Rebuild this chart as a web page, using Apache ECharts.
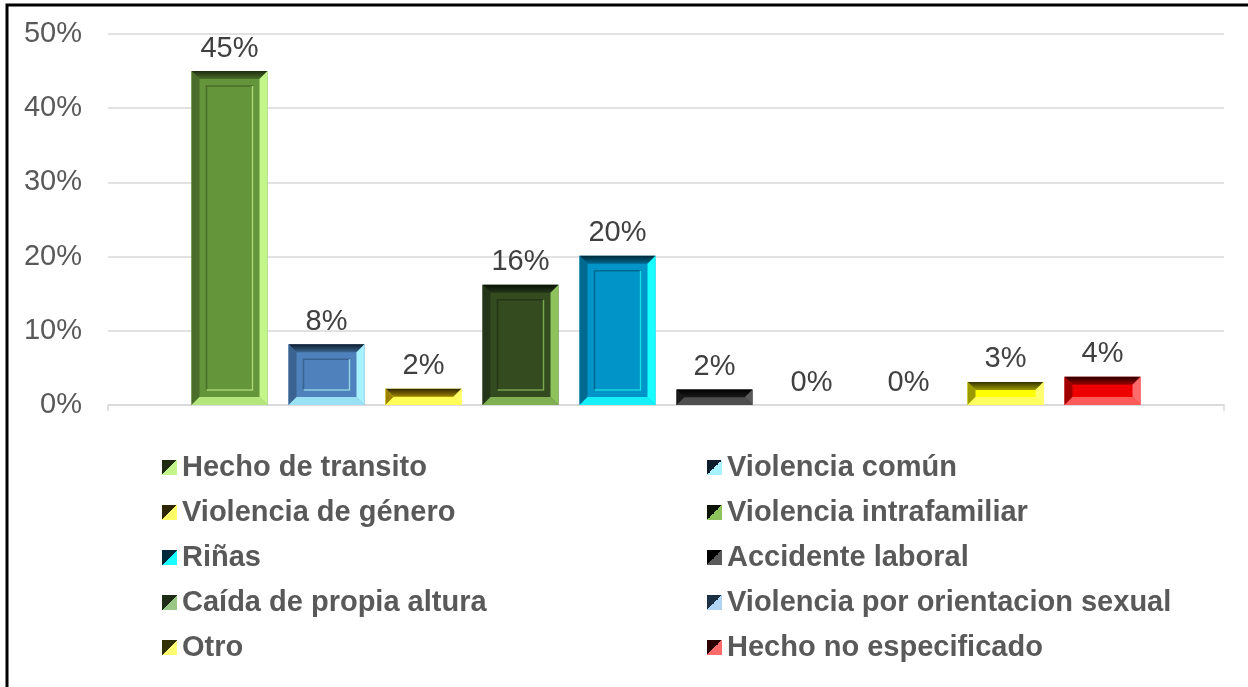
<!DOCTYPE html>
<html lang="es">
<head>
  <meta charset="UTF-8">
  <title>Tipo de hecho</title>
  <style>
    html, body { margin: 0; padding: 0; background: #fff; }
    #main { width: 1248px; height: 687px; }
  </style>
</head>
<body>
  <div id="main"></div>
  <script src="https://cdn.jsdelivr.net/npm/echarts@6/dist/echarts.min.js"></script>
  <script>
    // datos (porcentajes)
    const names = [
      'Hecho de transito', 'Violencia común', 'Violencia de género', 'Violencia intrafamiliar',
      'Riñas', 'Accidente laboral', 'Caída de propia altura', 'Violencia por orientacion sexual',
      'Otro', 'Hecho no especificado'
    ];
    const values = [45.0, 8.2, 2.2, 16.2, 20.1, 2.1, 0, 0, 3.1, 3.8];
    const yTicks = [0, 10, 20, 30, 40, 50];

    // colores: principal, claro (derecha/abajo), oscuro (arriba), lateral izq.
    const palette = [
      { main: '#65953a', light: '#c3f58b', dark: '#1f2c12', side: '#4a6e29' },
      { main: '#4f81bd', light: '#a8f2ff', dark: '#0f1c2c', side: '#3a6390' },
      { main: '#ffff00', light: '#ffff66', dark: '#2e2600', side: '#9c8000' },
      { main: '#344b1f', light: '#8ec25c', dark: '#0b1206', side: '#24361a' },
      { main: '#0094c8', light: '#19ffff', dark: '#002a3a', side: '#006a90' },
      { main: '#0d0d0d', light: '#5a5a5a', dark: '#000000', side: '#1a1a1a' },
      { main: '#4f7d3c', light: '#9bc785', dark: '#1c2c15', side: '#3a5c2c' },
      { main: '#6a9ccc', light: '#b0d4f4', dark: '#1c3044', side: '#4e7aa4' },
      { main: '#ffff00', light: '#ffff70', dark: '#323200', side: '#9a9a00' },
      { main: '#ee0000', light: '#ff6a6a', dark: '#2c0000', side: '#a00000' }
    ];

    const font = 'Liberation Sans, Arial, sans-serif';
    const barW = 76;
    const step = 97;

    let myChart = echarts.init(document.getElementById('main'));

    function makeRender(idx) {
      return function (params, api) {
        const val = api.value(1);
        const top = api.coord([0, val]);
        const base = api.coord([0, 0]);
        const cx = top[0] + (idx - (names.length - 1) / 2) * step;
        const x0 = cx - barW / 2, x1 = cx + barW / 2;
        const y0 = top[1], y1 = base[1];
        const c = palette[idx];
        const children = [];
        const h = y1 - y0;
        if (h > 0.5) {
          const b = Math.min(8, h / 2);
          children.push({ type: 'rect', shape: { x: x0, y: y0, width: barW, height: h }, style: { fill: c.main } });
          children.push({ type: 'polygon', shape: { points: [[x0, y0], [x1, y0], [x1 - b, y0 + b], [x0 + b, y0 + b]] },
            style: { fill: new echarts.graphic.LinearGradient(0, 0, 0, 1, [{ offset: 0, color: c.dark }, { offset: 1, color: c.side }]) } });
          children.push({ type: 'polygon', shape: { points: [[x0, y0], [x0 + b, y0 + b], [x0 + b, y1 - b], [x0, y1]] }, style: { fill: c.side } });
          children.push({ type: 'polygon', shape: { points: [[x1, y0], [x1, y1], [x1 - b, y1 - b], [x1 - b, y0 + b]] }, style: { fill: c.light } });
          children.push({ type: 'polygon', shape: { points: [[x0, y1], [x1, y1], [x1 - b, y1 - b], [x0 + b, y1 - b]] }, style: { fill: c.light, opacity: 0.85 } });
          if (h > 40) {
            const ins = 15;
            children.push({ type: 'rect', shape: { x: x0 + ins, y: y0 + ins, width: barW - 2 * ins, height: h - 2 * ins },
              style: { fill: 'none', stroke: c.side, lineWidth: 1.5 } });
            children.push({ type: 'polyline', shape: { points: [[x1 - ins, y0 + ins], [x1 - ins, y1 - ins], [x0 + ins, y1 - ins]] },
              style: { fill: 'none', stroke: c.light, lineWidth: 1.5, opacity: 0.8 } });
          }
        }
        children.push({
          type: 'text',
          style: {
            text: Math.round(val) + '%', x: cx, y: y0 - 8,
            align: 'center', verticalAlign: 'bottom',
            fill: '#404040', font: '29px ' + font
          }
        });
        return { type: 'group', children: children };
      };
    }

    const series = names.map(function (n, i) {
      const c = palette[i];
      return {
        name: n,
        type: 'custom',
        renderItem: makeRender(i),
        encode: { x: 0, y: 1 },
        // el degradado solo se usa en el icono de la leyenda
        itemStyle: {
          color: new echarts.graphic.LinearGradient(0, 0, 1, 1, [
            { offset: 0, color: c.dark }, { offset: 0.5, color: c.dark },
            { offset: 0.5, color: c.light }, { offset: 1, color: c.light }
          ])
        },
        data: [[0, values[i]]]
      };
    });

    const legendBase = {
      orient: 'vertical',
      top: 448,
      icon: 'rect',
      itemWidth: 15,
      itemHeight: 15,
      itemGap: 16,
      textStyle: { fontSize: 29, fontWeight: 'bold', color: '#595959', fontFamily: font, padding: [0, 0, 0, 0] }
    };

    let option = {
      animation: false,
      graphic: [{
        type: 'rect', shape: { x: 7, y: 5, width: 1270, height: 720 },
        style: { fill: 'none', stroke: '#000', lineWidth: 3 }, silent: true
      }],
      grid: { left: 108, right: 24, top: 34, bottom: 282 },
      legend: [
        Object.assign({}, legendBase, { left: 157, data: names.filter(function (n, i) { return i % 2 === 0; }) }),
        Object.assign({}, legendBase, { left: 702, data: names.filter(function (n, i) { return i % 2 === 1; }) })
      ],
      xAxis: {
        type: 'category',
        data: [''],
        axisLine: { lineStyle: { color: '#d9d9d9', width: 1.5 } },
        axisTick: { show: true, length: 6, lineStyle: { color: '#d9d9d9', width: 1.5 } },
        axisLabel: { show: false }
      },
      yAxis: {
        type: 'value',
        min: yTicks[0],
        max: yTicks[yTicks.length - 1],
        interval: 10,
        axisLine: { show: false },
        axisTick: { show: false },
        splitLine: { lineStyle: { color: '#d9d9d9', width: 1.5 } },
        axisLabel: { formatter: '{value}%', fontSize: 29, color: '#595959', fontFamily: font, margin: 26 }
      },
      series: series
    };
    myChart.setOption(option);
  </script>
</body>
</html>
